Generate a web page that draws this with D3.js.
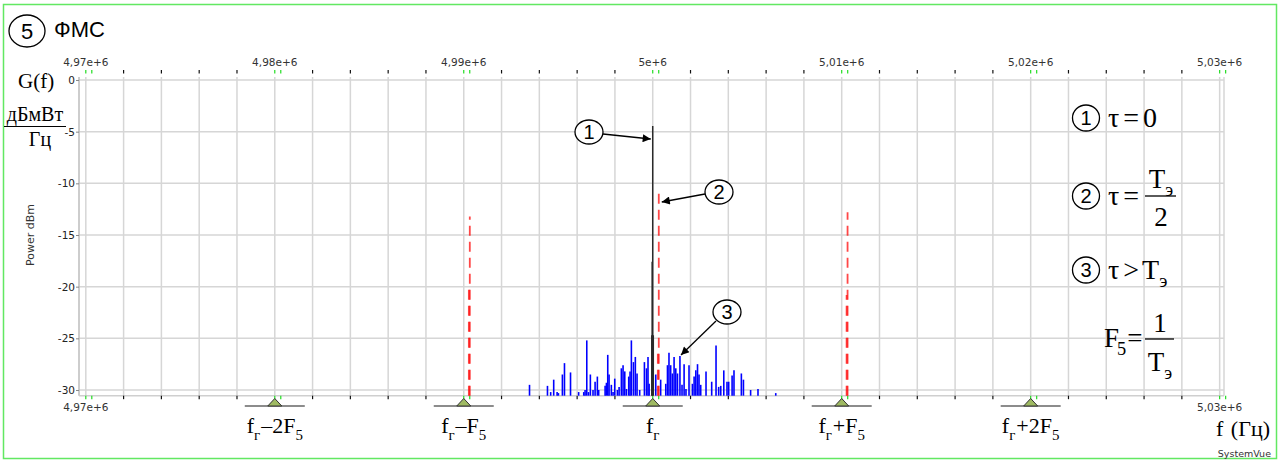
<!DOCTYPE html>
<html>
<head>
<meta charset="utf-8">
<script src="https://cdn.jsdelivr.net/npm/d3@7"></script>
<style>
  body { margin: 0; background: #fff; }
  svg { display: block; }
  .serif { font-family: "Liberation Serif", "Times New Roman", serif; fill: #000; }
  .sans { font-family: "Liberation Sans", Arial, sans-serif; fill: #000; }
  .small { font-family: "DejaVu Sans", Verdana, sans-serif; fill: #333; }
</style>
</head>
<body>
<div class="chart"></div>
<script>
const width = 1280;
const height = 462;

// carrier and clock frequency, Hz
const fCarrier = 5e6;
const F5 = 1e4;

const freqTicks = [4.97e6, 4.98e6, 4.99e6, 5.00e6, 5.01e6, 5.02e6, 5.03e6];
const freqTickLabels = ['4,97e+6', '4,98e+6', '4,99e+6', '5e+6', '5,01e+6', '5,02e+6', '5,03e+6'];
const powerTicks = [0, -5, -10, -15, -20, -25, -30];

const markerSteps = [-2, -1, 0, 1, 2];
const markerLabels = ['–2F', '–F', '', '+F', '+2F'];

// (1) tau = 0, offsets from carrier in Hz, power dBm
const tau0Offset = [0, -30, -50, 30];
const tau0Power = [-4.45, -17.6, -24.7, -24.7];

// (2) tau = T/2
const halfOffset = [-9680, -9730, 320, 270, 10310, 10260];
const halfPower = [-13.2, -20.3, -10.9, -26.0, -12.8, -20.8];

// (3) tau > T
const longOffset = [-6520, -5570, -5400, -5240, -5060, -4990, -4780, -4670, -4350, -3920,
  -3650, -3580, -3490, -3400, -3300, -3160, -3050, -2930, -2860, -2520,
  -2450, -2380, -2310, -2190, -2100, -2010, -1870, -1780, -1660, -1570,
  -1480, -1390, -1270, -1200, -1130, -1020, -920, -830, -690, -440,
  -330, -250, -190, 160, 420, 690, 780, 860, 950, 1040,
  1130, 1220, 1310, 1440, 1550, 1660, 1760, 1920, 2100, 2190,
  2280, 2370, 2450, 2540, 2820, 3120, 3350, 3490, 3600, 3760,
  3930, 4020, 4200, 4300, 4690, 4800, 5180, 5570, 6510];
const longPower = [-29.5, -29.6, -30.2, -29.0, -30.2, -30.3, -28.5, -27.4, -28.3, -30.2,
  -30.2, -30.0, -25.2, -30.2, -28.5, -30.0, -29.2, -28.7, -30.0, -29.6,
  -29.3, -26.6, -28.5, -29.5, -30.2, -28.9, -30.0, -29.7, -27.9, -27.6,
  -28.2, -29.9, -28.7, -28.2, -25.2, -27.3, -26.8, -28.4, -30.0, -27.3,
  -27.9, -26.8, -29.4, -28.5, -29.0, -29.4, -27.6, -26.4, -27.6, -28.4,
  -26.8, -27.9, -28.4, -26.7, -29.5, -27.5, -29.9, -27.6, -29.4, -28.7,
  -28.1, -27.5, -28.5, -29.5, -28.2, -29.2, -25.7, -29.7, -29.6, -28.1,
  -29.2, -29.2, -28.6, -28.1, -28.4, -29.0, -30.0, -29.9, -30.3];

const floorPower = -30.55;

const svg = d3.select('.chart')
    .append('svg')
    .attr('width', width)
    .attr('height', height)

const x = d3.scaleLinear().domain([4.96964e6, 5.03023e6]).range([79, 1224]);
const y = d3.scaleLinear().domain([0, -30]).range([80, 390]);
const yFloor = y(floorPower);
const gridTop = 77;

const toPoints = (offs, pows) => offs.map((o, i) => ({f: fCarrier + o, p: pows[i]}));

// frame
svg.append('rect')
    .attr('x', 3.5).attr('y', 4.5)
    .attr('width', 1273).attr('height', 454)
    .attr('fill', 'none')
    .attr('stroke', '#62e862')
    .attr('stroke-width', 1.5)

// grid
const minorTicks = d3.range(0, 31).map(i => 4.97e6 + i * 2000);
const labeled = f => freqTicks.some(t => Math.abs(t - f) < 1);

svg.append('g').selectAll('line')
    .data(minorTicks)
    .enter().append('line')
    .attr('x1', d => x(d)).attr('x2', d => x(d))
    .attr('y1', gridTop).attr('y2', yFloor)
    .attr('stroke', '#d6d6d6').attr('stroke-width', 1.5)

svg.append('g').selectAll('line')
    .data(powerTicks)
    .enter().append('line')
    .attr('x1', x.range()[0]).attr('x2', x.range()[1])
    .attr('y1', d => y(d)).attr('y2', d => y(d))
    .attr('stroke', '#d6d6d6').attr('stroke-width', 1.5)

svg.append('line')
    .attr('x1', x.range()[1]).attr('x2', x.range()[1])
    .attr('y1', gridTop).attr('y2', yFloor)
    .attr('stroke', '#d6d6d6').attr('stroke-width', 1.5)

// axis lines
svg.append('line')
    .attr('x1', x.range()[0]).attr('x2', x.range()[0])
    .attr('y1', gridTop).attr('y2', yFloor)
    .attr('stroke', '#bdbdbd').attr('stroke-width', 1.5)
svg.append('line')
    .attr('x1', x.range()[0]).attr('x2', x.range()[1])
    .attr('y1', yFloor).attr('y2', yFloor)
    .attr('stroke', '#cfcfcf').attr('stroke-width', 1.5)

// top and bottom ticks
const drawTicks = (y0, dir) => {
    svg.append('g').selectAll('line')
        .data(minorTicks.filter(d => !labeled(d)))
        .enter().append('line')
        .attr('x1', d => x(d)).attr('x2', d => x(d))
        .attr('y1', y0).attr('y2', y0 + dir * 3.5)
        .attr('stroke', '#111').attr('stroke-width', 1.2)
    svg.append('g').selectAll('line')
        .data(freqTicks.flatMap(d => [x(d), x(d) + 6]))
        .enter().append('line')
        .attr('x1', d => d).attr('x2', d => d)
        .attr('y1', y0).attr('y2', y0 + dir * 3.5)
        .attr('stroke', '#22dd22').attr('stroke-width', 1.2)
}
drawTicks(73.5, -1)
drawTicks(yFloor, 1)

svg.append('g').selectAll('text')
    .data(freqTicks)
    .enter().append('text')
    .attr('class', 'small')
    .attr('font-size', 10.5)
    .attr('text-anchor', 'middle')
    .attr('x', d => x(d))
    .attr('y', 66)
    .text((d, i) => freqTickLabels[i])

svg.append('g').selectAll('text')
    .data([freqTicks[0], freqTicks[freqTicks.length - 1]])
    .enter().append('text')
    .attr('class', 'small')
    .attr('font-size', 10.5)
    .attr('text-anchor', 'middle')
    .attr('x', d => x(d))
    .attr('y', 411)
    .text(d => freqTickLabels[freqTicks.indexOf(d)])

// y axis
const yAxis = svg.append('g')
    .attr('transform', `translate(${x.range()[0]},0)`)
    .call(d3.axisLeft(y).tickValues(powerTicks).tickSize(3).tickPadding(1)
        .tickFormat(d => String(d)))
yAxis.select('.domain').remove()
yAxis.selectAll('line').attr('stroke', '#888')
yAxis.selectAll('text')
    .attr('class', 'small')
    .attr('font-size', 10.5)
    .attr('font-family', null)
    .style('fill', '#222')

svg.append('text')
    .attr('class', 'small')
    .attr('font-size', 11)
    .attr('text-anchor', 'middle')
    .attr('transform', 'translate(34,235) rotate(-90)')
    .text('Power dBm')

// spectra
const bars = (pts, cls) => svg.append('g').attr('class', cls).selectAll('line')
    .data(pts)
    .enter().append('line')
    .attr('x1', d => x(d.f)).attr('x2', d => x(d.f))
    .attr('y1', yFloor).attr('y2', d => y(d.p))

bars(toPoints(longOffset, longPower), 'long')
    .attr('stroke', '#0000ff').attr('stroke-width', 1.6)

bars(toPoints(tau0Offset, tau0Power), 'tau0')
    .attr('stroke', '#2a2a2a').attr('stroke-width', 1.5)

bars(toPoints(halfOffset, halfPower), 'half')
    .attr('stroke', '#ff0000').attr('stroke-width', 1.8)
    .attr('stroke-opacity', 0.72)
    .attr('stroke-dasharray', '10,6')

// frequency markers
const markers = svg.append('g').selectAll('g')
    .data(markerSteps)
    .enter().append('g')
    .attr('transform', d => `translate(${x(fCarrier + d * F5)},406)`)

markers.append('line')
    .attr('x1', -30).attr('x2', 30)
    .attr('stroke', '#666').attr('stroke-width', 1.5)
markers.append('path')
    .attr('d', 'M-7,0L0,-7.5L7,0Z')
    .attr('fill', '#9fba62').attr('stroke', '#333').attr('stroke-width', 1)

const formula = (x0, y0, size, parts, anchor = 'start') => {
    const t = svg.append('text')
        .attr('class', 'serif')
        .attr('x', x0).attr('y', y0)
        .attr('font-size', size)
        .attr('text-anchor', anchor)
    let shift = 0
    parts.forEach(([s, kind, dx]) => {
        const sub = kind === 'sub'
        const next = sub ? size * 0.3 : 0
        t.append('tspan')
            .attr('dy', next - shift)
            .attr('dx', dx || 0)
            .attr('font-size', sub ? size * 0.68 : size)
            .text(s)
        shift = next
    })
    return t
}

markerSteps.forEach((k, i) => {
    const parts = [['f'], ['г', 'sub']]
    if (markerLabels[i]) parts.push([markerLabels[i], '', 1], ['5', 'sub'])
    formula(x(fCarrier + k * F5), 433, 22, parts, 'middle')
})

formula(1270, 436, 22, [['f'], [' (Гц)', '', 2]], 'end')

svg.append('text')
    .attr('class', 'small')
    .attr('font-size', 9.5)
    .attr('text-anchor', 'end')
    .attr('x', 1271).attr('y', 457)
    .text('SystemVue')

// title
const circled = (cx, cy, rx, ry, label, size) => {
    svg.append('ellipse')
        .attr('cx', cx).attr('cy', cy).attr('rx', rx).attr('ry', ry)
        .attr('fill', '#fff').attr('stroke', '#000').attr('stroke-width', 1.3)
    svg.append('text')
        .attr('class', 'sans')
        .attr('x', cx).attr('y', cy)
        .attr('dy', '0.36em')
        .attr('font-size', size)
        .attr('text-anchor', 'middle')
        .text(label)
}
circled(27, 31, 18, 16, '5', 22)
svg.append('text')
    .attr('class', 'sans')
    .attr('x', 54).attr('y', 37)
    .attr('font-size', 22)
    .text('ФМС')

// units on the left
svg.append('text').attr('class', 'serif').attr('font-size', 21)
    .attr('x', 18).attr('y', 88).text('G(f)')
svg.append('text').attr('class', 'serif').attr('font-size', 20)
    .attr('x', 35).attr('y', 121).attr('text-anchor', 'middle').text('дБмВт')
svg.append('line')
    .attr('x1', 4).attr('x2', 66).attr('y1', 126.5).attr('y2', 126.5)
    .attr('stroke', '#000').attr('stroke-width', 1.2)
svg.append('text').attr('class', 'serif').attr('font-size', 20)
    .attr('x', 40).attr('y', 146).attr('text-anchor', 'middle').text('Гц')

// legend
const fracBar = (x1, x2, yb) => svg.append('line')
    .attr('x1', x1).attr('x2', x2).attr('y1', yb).attr('y2', yb)
    .attr('stroke', '#000').attr('stroke-width', 1.3)

circled(1086, 118, 13.5, 13, '1', 20)
formula(1108, 127, 28, [['τ'], ['=', '', 4], ['0', '', 4]])

circled(1086, 196, 13.5, 13, '2', 20)
formula(1108, 205, 28, [['τ'], ['=', '', 4]])
formula(1161, 188, 27, [['T'], ['э', 'sub']], 'middle')
fracBar(1145, 1176, 196)
formula(1161, 226, 27, [['2']], 'middle')

circled(1086, 270, 13.5, 13, '3', 20)
formula(1108, 279, 28, [['τ'], ['>', '', 4], ['T', '', 3], ['э', 'sub']])

formula(1104, 347, 27, [['F'], ['5', 'sub', -2], ['=', '', 1]])
fracBar(1145, 1174, 339)
formula(1160, 332, 27, [['1']], 'middle')
formula(1160, 371, 27, [['T'], ['э', 'sub']], 'middle')

// callouts
svg.append('defs').append('marker')
    .attr('id', 'arrow')
    .attr('viewBox', '0 0 10 10')
    .attr('refX', 10).attr('refY', 5)
    .attr('markerUnits', 'userSpaceOnUse')
    .attr('markerWidth', 13).attr('markerHeight', 8)
    .attr('orient', 'auto')
    .append('path').attr('d', 'M0,0L10,5L0,10Z').attr('fill', '#000')

const callout = (cx, cy, label, x1, y1, x2, y2) => {
    svg.append('line')
        .attr('x1', x1).attr('y1', y1).attr('x2', x2).attr('y2', y2)
        .attr('stroke', '#000').attr('stroke-width', 1.3)
        .attr('marker-end', 'url(#arrow)')
    circled(cx, cy, 14, 12, label, 20)
}
callout(589, 132, '1', 603, 134, x(fCarrier) - 2, 139)
callout(719, 192, '2', 705, 194, x(fCarrier + halfOffset[2]) + 3, 202)
callout(727, 312, '3', 716, 321, 681, 355)
</script>
</body>
</html>
